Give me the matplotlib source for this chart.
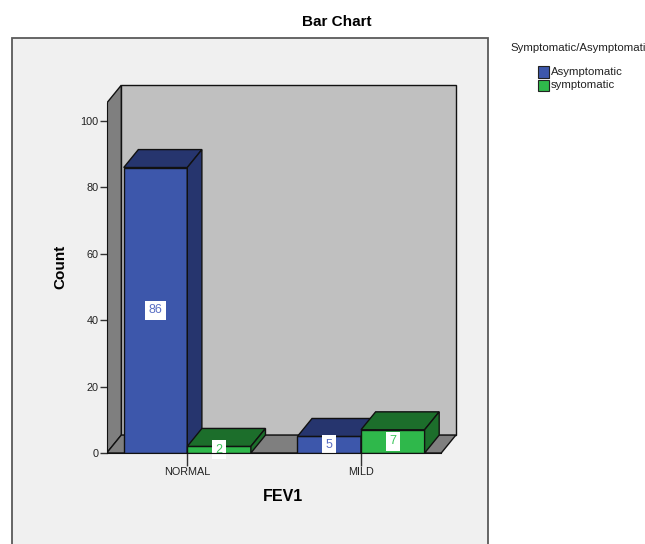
import matplotlib
matplotlib.use("Agg")
import matplotlib.pyplot as plt
import matplotlib.patches as mpatches

plt.rcParams['font.family'] = ['Liberation Sans', 'DejaVu Sans']

categories = ['NORMAL', 'MILD']
groups = ['Asymptomatic', 'symptomatic']
counts = {
    'Asymptomatic': [86, 5],
    'symptomatic': [2, 7],
}
front_colors = {'Asymptomatic': '#3d57ab', 'symptomatic': '#2fb84b'}
dark_colors = {'Asymptomatic': '#26356e', 'symptomatic': '#1c6e2b'}
text_colors = {'Asymptomatic': '#5a6fc4', 'symptomatic': '#3cc65a'}
y_ticks = [0, 20, 40, 60, 80, 100]

bar_w = 0.366
dx, dy = 0.084, 5.4          # depth offset of the 3d look
x0, x1 = -0.464, 1.462       # front floor extent
y_top = 105.4                # front top of the left wall

fig = plt.figure(figsize=(6.45, 5.44), dpi=100)
fig.patch.set_facecolor('white')

# outer chart frame, kept behind the axes
frame = mpatches.Rectangle((12 / 645, -0.02), 476 / 645, (544 - 38) / 544 + 0.02,
                           transform=fig.transFigure, facecolor='#f0f0f0',
                           edgecolor='#5a5a5a', lw=1.3, zorder=-5)
fig.patches.append(frame)

ax = fig.add_axes([106.7 / 645, 91 / 544, 351.6 / 645, 371.8 / 544])
ax.set_facecolor('none')
ax.set_zorder(2)
ax.set_xlim(x0, 1.56)
ax.set_ylim(0, 112)

ec = '#111111'
# back wall, left wall, floor
ax.fill([x0 + dx, x1 + dx, x1 + dx, x0 + dx], [dy, dy, y_top + dy, y_top + dy],
        fc='#c0c0c0', ec=ec, lw=1, zorder=1)
ax.fill([x0, x0 + dx, x0 + dx, x0], [0, dy, y_top + dy, y_top],
        fc='#7f7f7f', ec=ec, lw=1, zorder=1)
ax.fill([x0, x1, x1 + dx, x0 + dx], [0, 0, dy, dy],
        fc='#7f7f7f', ec=ec, lw=1, zorder=1)

z = 2
for i, cat in enumerate(categories):
    for j, g in enumerate(groups):
        v = counts[g][i]
        left = i - bar_w + j * bar_w
        right = left + bar_w
        # front face
        ax.fill([left, right, right, left], [0, 0, v, v],
                fc=front_colors[g], ec=ec, lw=1, zorder=z)
        # top face
        ax.fill([left, right, right + dx, left + dx], [v, v, v + dy, v + dy],
                fc=dark_colors[g], ec=ec, lw=1, zorder=z)
        # side face
        ax.fill([right, right + dx, right + dx, right], [0, dy, v + dy, v],
                fc=dark_colors[g], ec=ec, lw=1, zorder=z)
        ax.text((left + right) / 2, v / 2, str(v), ha='center', va='center',
                fontsize=9, color=text_colors[g], zorder=z + 1,
                bbox=dict(boxstyle='square,pad=0.3', fc='white', ec='none'))
        z += 1

for s in ['top', 'right']:
    ax.spines[s].set_visible(False)
ax.spines['left'].set_bounds(0, y_top)
ax.spines['bottom'].set_bounds(x0, x1)
ax.spines['left'].set_color(ec)
ax.spines['bottom'].set_color(ec)
ax.spines['bottom'].set_zorder(10)

ax.set_yticks(y_ticks)
ax.set_xticks(range(len(categories)))
ax.set_xticklabels(categories)
ax.tick_params(axis='y', length=5, width=1, color='#333333', labelsize=7.8,
               labelcolor='#222222', pad=1)
ax.tick_params(axis='x', length=9, width=1, color='#333333', labelsize=7.8,
               labelcolor='#222222', pad=1)

ax.set_ylabel('Count', fontsize=11, fontweight='bold', labelpad=9)
ax.set_xlabel('FEV1', fontsize=11.5, fontweight='bold', labelpad=9)

fig.text(337 / 645, 1 - 22 / 544, 'Bar Chart', ha='center', va='center',
         fontsize=11, fontweight='bold')

# legend
fig.text(510 / 645, 1 - 48 / 544, 'Symptomatic/Asymptomatic', ha='left', va='center',
         fontsize=8.2, color='#222222')
for k, g in enumerate(groups):
    yc = 72 + k * 13.5
    fig.patches.append(mpatches.Rectangle((538 / 645, 1 - (yc + 5.5) / 544), 11 / 645, 11 / 544,
                                          transform=fig.transFigure,
                                          fc=front_colors[g], ec='#222222', lw=0.8))
    fig.text(551 / 645, 1 - yc / 544, g, ha='left', va='center', fontsize=8.2,
             color='#222222')

fig.savefig('out.png', dpi=100)
